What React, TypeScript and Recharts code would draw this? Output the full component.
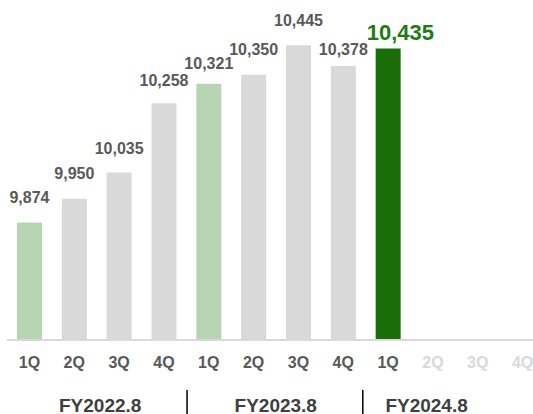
import { BarChart, Bar, XAxis, YAxis, Cell, LabelList } from 'recharts';

const quarters = ['1Q', '2Q', '3Q', '4Q', '1Q', '2Q', '3Q', '4Q', '1Q', '2Q', '3Q', '4Q'];
const sales = [9874, 9950, 10035, 10258, 10321, 10350, 10445, 10378, 10435, null, null, null];
const fiscalYears = ['FY2022.8', 'FY2023.8', 'FY2024.8'];

const data = quarters.map((q, i) => ({ key: `${i}`, quarter: q, sales: sales[i] }));

const lastIndex = sales.reduce<number>((acc, v, i) => (v != null ? i : acc), -1);

const FONT = '"Liberation Sans", Arial, sans-serif';
const GRAY_BAR = '#d9d9d9';
const LIGHT_GREEN = '#b8d5b3';
const DARK_GREEN = '#1a6e0a';

const barColor = (i: number) => {
  if (i === lastIndex) return DARK_GREEN;
  if (i % 4 === 0) return LIGHT_GREEN;
  return GRAY_BAR;
};

// group label offsets from the first quarter of each year, and separator offsets
const groupOffsets = [70.8, 67, 38.5];
const sepOffsets = [0, -21.7, -25.3];
// labels nudged down a little where they would crowd the neighbours
const labelGap: Record<number, number> = { 2: 18.7, 3: 17.3, 4: 15, 7: 11 };

const QuarterTick = (props: any) => {
  const { x, y, payload, index } = props;
  const future = sales[index] == null;
  const yearIdx = Math.floor(index / 4);
  return (
    <g>
      <text
        x={x}
        y={y + 28}
        textAnchor="middle"
        fontFamily={FONT}
        fontWeight="bold"
        fontSize={16}
        fill={future ? '#d9d9d9' : '#595959'}
      >
        {quarters[index] ?? payload.value}
      </text>
      {index % 4 === 0 && (
        <text
          x={x + groupOffsets[yearIdx]}
          y={y + 71.5}
          textAnchor="middle"
          fontFamily={FONT}
          fontWeight="bold"
          fontSize={19}
          fill="#404040"
        >
          {fiscalYears[yearIdx]}
        </text>
      )}
      {index % 4 === 0 && index > 0 && (
        <line
          x1={x + sepOffsets[yearIdx]}
          x2={x + sepOffsets[yearIdx]}
          y1={y + 50}
          y2={y + 74}
          stroke="#000"
          strokeWidth={1.5}
        />
      )}
    </g>
  );
};

const ValueLabel = (props: any) => {
  const { x, y, width, value, index } = props;
  if (value == null) return null;
  const last = index === lastIndex;
  if (last) {
    return (
      <text x={x - 9} y={y - 8} textAnchor="start" fontFamily={FONT} fontWeight="bold" fontSize={22} fill="#1e7b14">
        {value.toLocaleString('en-US')}
      </text>
    );
  }
  return (
    <text
      x={x + width / 2}
      y={y - (labelGap[index] ?? 19.5)}
      textAnchor="middle"
      fontFamily={FONT}
      fontWeight="bold"
      fontSize={16}
      fill="#595959"
    >
      {value.toLocaleString('en-US')}
    </text>
  );
};

export default function App() {
  return (
    <div style={{ position: 'absolute', left: 0, top: 0, width: 533, height: 414, overflow: 'hidden', background: '#fff' }}>
      <BarChart width={545} height={414} data={data} margin={{ top: 5, right: 0, bottom: 0, left: 7 }} barCategoryGap={0}>
        <XAxis
          dataKey="key"
          height={74}
          axisLine={{ stroke: '#d9d9d9', strokeWidth: 2 }}
          tickLine={false}
          tickSize={0}
          tickMargin={0}
          interval={0}
          tick={<QuarterTick />}
        />
        <YAxis hide domain={[9495, 10575]} allowDataOverflow />
        <Bar dataKey="sales" barSize={25} isAnimationActive={false}>
          {data.map((d, i) => (
            <Cell key={d.key} fill={barColor(i)} />
          ))}
          <LabelList dataKey="sales" content={<ValueLabel />} />
        </Bar>
      </BarChart>
    </div>
  );
}
